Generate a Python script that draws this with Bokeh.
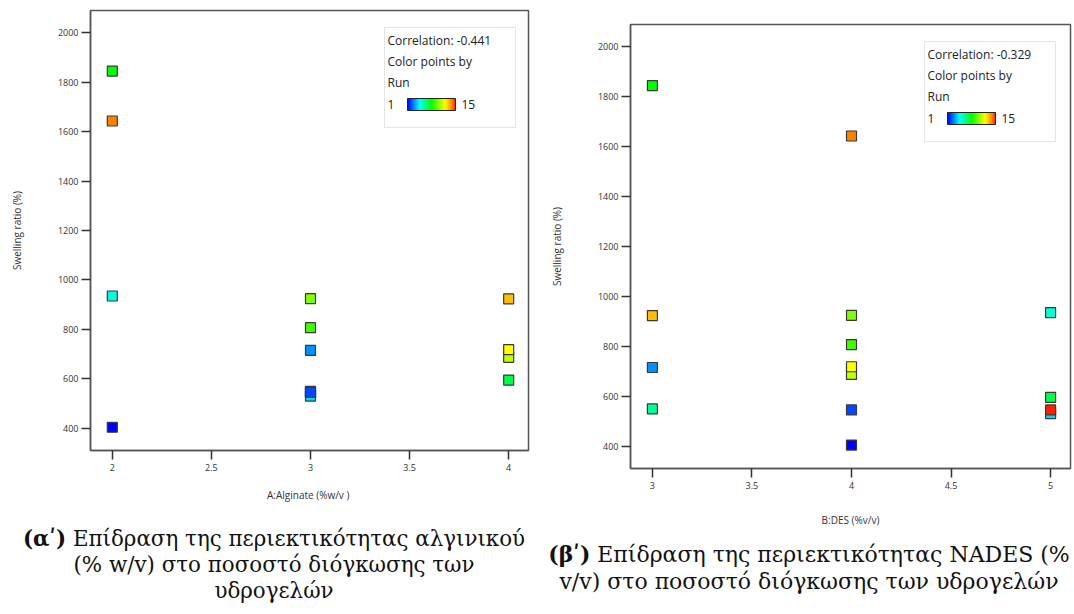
from bokeh.plotting import figure
from bokeh.models import (ColumnDataSource, LinearColorMapper, ColorBar, Label,
                          BoxAnnotation, FixedTicker, Div, Range1d)
from bokeh.layouts import row, column
from bokeh.transform import transform
from bokeh.embed import file_html
from bokeh.resources import INLINE

# ---- data (draw order) ----
run = [1, 3, 4, 5, 6, 7, 8, 9, 10, 11, 12, 13, 14, 15, 2]
alginate = [2, 3, 3, 2, 3, 4, 2, 3, 3, 4, 4, 4, 2, 3, 3]
des = [4, 3, 5, 5, 3, 5, 3, 4, 4, 4, 4, 3, 4, 5, 4]
swelling = [404, 715, 530, 935, 549, 595, 1845, 807, 924, 687, 718, 923, 1643, 545, 545]

x_ticks_a = [2, 2.5, 3, 3.5, 4]
x_ticks_b = [3, 3.5, 4, 4.5, 5]
y_ticks = [400, 600, 800, 1000, 1200, 1400, 1600, 1800, 2000]

corr_a = "Correlation: -0.441"
corr_b = "Correlation: -0.329"

caption_a = ('<b>(αʹ)</b> Επίδραση της περιεκτικότητας αλγινικού<br>'
             '(% w/v) στο ποσοστό διόγκωσης των<br>υδρογελών')
caption_b = ('<b>(βʹ)</b> Επίδραση της περιεκτικότητας NADES (%<br>'
             'v/v) στο ποσοστό διόγκωσης των υδρογελών')

# ---- colour map (blue -> cyan -> green -> yellow -> orange -> red) ----
stops = [(0.0, (0, 0, 255)), (0.25, (0, 255, 255)), (0.5, (0, 255, 0)),
         (0.786, (255, 255, 0)), (0.93, (255, 128, 0)), (1.0, (255, 30, 0))]
palette = []
n = 256
for i in range(n):
    t = i / (n - 1)
    for k in range(len(stops) - 1):
        if stops[k][0] <= t <= stops[k + 1][0]:
            break
    t0, c0 = stops[k]
    t1, c1 = stops[k + 1]
    f = (t - t0) / (t1 - t0)
    c = [round(c0[j] + (c1[j] - c0[j]) * f) for j in range(3)]
    palette.append("#%02x%02x%02x" % tuple(c))
mapper = LinearColorMapper(palette=palette, low=1, high=15)

src = ColumnDataSource(dict(run=run, a=alginate, b=des, y=swelling))

FONT = "Open Sans"


def make_fig(xcol, xr, xticks, xlabel, width, height, mbl, mbr, mbt, mbb,
             tick_std, lab_std, corr, frame_h):
    p = figure(width=width, height=height, x_range=Range1d(*xr),
               y_range=Range1d(310, 2090), output_backend="svg",
               toolbar_location=None, min_border_left=mbl, min_border_right=mbr,
               min_border_top=mbt, min_border_bottom=mbb)
    p.grid.visible = False
    p.outline_line_color = "#555555"
    p.outline_line_width = 1.5
    p.background_fill_color = "white"
    p.border_fill_color = "white"
    p.xaxis.ticker = FixedTicker(ticks=xticks)
    p.yaxis.ticker = FixedTicker(ticks=y_ticks)
    for ax in (p.xaxis, p.yaxis):
        ax.axis_line_color = "#555555"
        ax.axis_line_width = 1.5
        ax.major_tick_in = 0
        ax.major_tick_out = 9
        ax.major_tick_line_color = "#333333"
        ax.major_tick_line_width = 1.5
        ax.minor_tick_line_color = None
        ax.major_label_text_font = FONT
        ax.major_label_text_font_size = "9px"
        ax.major_label_text_color = "#333333"
        ax.axis_label_text_font = FONT
        ax.axis_label_text_font_size = "10px"
        ax.axis_label_text_font_style = "normal"
        ax.axis_label_text_color = "#333333"
    p.xaxis.axis_label = xlabel
    p.yaxis.axis_label = "Swelling ratio (%)"
    p.xaxis.major_label_standoff = tick_std
    p.xaxis.axis_label_standoff = lab_std
    p.yaxis.major_label_standoff = 3
    p.yaxis.axis_label_standoff = 31

    p.scatter(xcol, "y", source=src, marker="square", size=10,
              fill_color=transform("run", mapper), line_color="#3a3a3a",
              line_width=1.2)

    # legend box
    top = frame_h - 17
    p.add_layout(BoxAnnotation(left=294, right=425, top=top, bottom=top - 100,
                               left_units="screen", right_units="screen",
                               top_units="screen", bottom_units="screen",
                               fill_color=None, fill_alpha=0,
                               line_color="#aaaaaa", line_width=1))
    lines = [corr, "Color points by", "Run"]
    for i, t in enumerate(lines):
        p.add_layout(Label(x=297, y=top - 13 - 21 * i, x_units="screen",
                           y_units="screen", text=t, text_font=FONT,
                           text_font_size="12px", text_color="#222222",
                           text_baseline="middle", text_align="left"))
    yrow = top - 77
    p.add_layout(Label(x=297, y=yrow, x_units="screen", y_units="screen",
                       text="1", text_font=FONT, text_font_size="12px",
                       text_color="#222222", text_baseline="middle"))
    p.add_layout(Label(x=371, y=yrow, x_units="screen", y_units="screen",
                       text="15", text_font=FONT, text_font_size="12px",
                       text_color="#222222", text_baseline="middle"))
    cb = ColorBar(color_mapper=mapper, orientation="horizontal",
                  location=(317, yrow - 6), width=48, height=12, padding=0,
                  ticker=FixedTicker(ticks=[]), major_tick_line_color=None,
                  minor_tick_line_color=None, major_label_text_font_size="0px",
                  label_standoff=0, bar_line_color="#222222",
                  border_line_color=None, background_fill_alpha=0,
                  title=None)
    p.add_layout(cb)
    return p


p1 = make_fig("a", (1.89, 4.10), x_ticks_a, "A:Alginate  (%w/v )", 540, 526,
              90, 12, 10, 76, 4, 14, corr_a, 440)
p2 = make_fig("b", (2.89, 5.10), x_ticks_b, "B:DES (%v/v)", 532, 541,
              90, 2, 24, 73, 4, 21, corr_b, 444)

cap_style = {"font-family": "'DejaVu Serif', serif", "font-size": "21.4px",
             "text-align": "center", "line-height": "26px", "color": "#111111",
             "white-space": "nowrap"}
d1 = Div(text=caption_a, width=540, height=80, margin=0,
         styles=dict(cap_style, **{"padding-left": "8px"}))
d2 = Div(text=caption_b, width=532, height=60, margin=0,
         styles=dict(cap_style, **{"line-height": "27px", "font-size": "22px",
                                   "padding-left": "6px"}))

layout = row(column(p1, d1, spacing=0), column(p2, d2, spacing=0), spacing=0)

open("out.html", "w").write(file_html(layout, INLINE))
